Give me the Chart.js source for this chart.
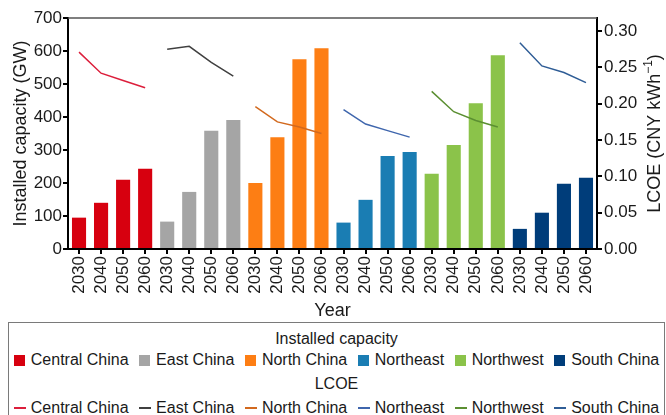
<!DOCTYPE html>
<html>
<head>
<meta charset="utf-8">
<script src="https://cdn.jsdelivr.net/npm/chart.js@4"></script>
<style>
  html, body { margin: 0; padding: 0; background: #fff; overflow: hidden; }
  #wrap { position: relative; width: 666px; height: 415px; font-family: 'Liberation Sans', Arial, sans-serif; color: #1a1a1a; }
  #chartBox { position: absolute; left: 0; top: 0; width: 666px; height: 322px; }
  #legend { position: absolute; left: 8px; top: 322px; width: 657px; height: 110px; border: 1.5px solid #7a7a7a; box-sizing: border-box; padding-top: 7px; }
  .ttl { text-align: center; font-size: 16px; line-height: 18px; }
  .row { display: flex; justify-content: center; gap: 10.5px; font-size: 16px; line-height: 18px; margin-top: 3px; }
  .row2 { margin-top: 6px; }
  .ttl2 { margin-top: 6px; }
  .item { display: flex; align-items: center; white-space: nowrap; }
  .sq { width: 11px; height: 11px; margin-right: 6px; }
  .ln { width: 12px; height: 1.5px; margin-right: 5px; }
</style>
</head>
<body>
<div id="wrap">
  <div id="chartBox"><canvas id="c" width="666" height="322"></canvas></div>
  <div id="legend">
    <div class="ttl">Installed capacity</div>
    <div class="row" id="barLegend"></div>
    <div class="ttl ttl2">LCOE</div>
    <div class="row row2" id="lineLegend"></div>
  </div>
</div>
<script>
// Decades shown for each region
const years = ['2030', '2040', '2050', '2060'];
const regions = ['Central China', 'East China', 'North China', 'Northeast', 'Northwest', 'South China'];

// Installed capacity (GW)
const capCentral   = [95, 140, 210, 243];
const capEast      = [83, 173, 358, 391];
const capNorth     = [200, 339, 575, 608];
const capNortheast = [80, 149, 282, 294];
const capNorthwest = [228, 315, 442, 587];
const capSouth     = [61, 110, 198, 216];

// LCOE (CNY per kWh)
const lcoeCentral   = [0.271, 0.242, 0.232, 0.222];
const lcoeEast      = [0.275, 0.279, 0.257, 0.238];
const lcoeNorth     = [0.196, 0.175, 0.168, 0.159];
const lcoeNortheast = [0.192, 0.172, 0.163, 0.154];
const lcoeNorthwest = [0.217, 0.189, 0.177, 0.168];
const lcoeSouth     = [0.284, 0.252, 0.243, 0.229];

// Axis tick values
const capTicks  = [0, 100, 200, 300, 400, 500, 600, 700];
const lcoeTicks = [0, 0.05, 0.10, 0.15, 0.20, 0.25, 0.30];

const barColors  = ['#d7000f', '#a5a5a5', '#fd7e14', '#1a7db3', '#8bc34a', '#003d7a'];
const lineColors = ['#dc1f3c', '#404040', '#d2691e', '#3f66ad', '#5b8f32', '#2f5d96'];

const capSeries  = [capCentral, capEast, capNorth, capNortheast, capNorthwest, capSouth];
const lcoeSeries = [lcoeCentral, lcoeEast, lcoeNorth, lcoeNortheast, lcoeNorthwest, lcoeSouth];

const labels = regions.flatMap(() => years);
const FONT = "'Liberation Sans', Arial, sans-serif";

// Place a region's four values into its slot along the 24 categories
function place(values, idx) {
  const out = new Array(labels.length).fill(null);
  values.forEach((v, i) => { out[idx * years.length + i] = v; });
  return out;
}

const datasets = [];
lcoeSeries.forEach((vals, i) => {
  datasets.push({
    type: 'line', label: regions[i], data: place(vals, i), yAxisID: 'y1',
    borderColor: lineColors[i], borderWidth: 1.5, pointRadius: 0, spanGaps: false,
    tension: 0, order: 0
  });
});
capSeries.forEach((vals, i) => {
  datasets.push({
    type: 'bar', label: regions[i], data: place(vals, i), yAxisID: 'y',
    backgroundColor: barColors[i], grouped: false, barPercentage: 0.64,
    categoryPercentage: 1, order: 1
  });
});

// Top frame line and the right-hand axis title with superscript
const frameAndTitle = {
  id: 'frameAndTitle',
  afterDraw(chart) {
    const { ctx, chartArea: { left, right, top, bottom } } = chart;
    ctx.save();
    ctx.strokeStyle = '#555';
    ctx.lineWidth = 1.5;
    ctx.beginPath();
    ctx.moveTo(left, top);
    ctx.lineTo(right, top);
    ctx.stroke();

    const main = 'LCOE (CNY kWh', sup = '\u22121', close = ')';
    const mainFont = '18px ' + FONT, supFont = '12px ' + FONT;
    ctx.font = mainFont; const w1 = ctx.measureText(main).width; const w3 = ctx.measureText(close).width;
    ctx.font = supFont; const w2 = ctx.measureText(sup).width;
    const total = w1 + w2 + w3;
    ctx.translate(655, (top + bottom) / 2);
    ctx.rotate(-Math.PI / 2);
    ctx.fillStyle = '#1a1a1a';
    ctx.textBaseline = 'middle';
    ctx.textAlign = 'left';
    let x = -total / 2;
    ctx.font = mainFont; ctx.fillText(main, x, 0); x += w1;
    ctx.font = supFont; ctx.fillText(sup, x, -6); x += w2;
    ctx.font = mainFont; ctx.fillText(close, x, 0);
    ctx.restore();
  }
};

const tickFont = { size: 17, family: FONT };
const axisGrid = { display: true, drawOnChartArea: false, drawTicks: true, tickLength: 5, tickColor: '#000', lineWidth: 2, offset: false };

new Chart(document.getElementById('c'), {
  data: { labels, datasets },
  options: {
    responsive: false,
    animation: false,
    layout: { padding: { top: 18, left: 0, right: 0, bottom: 0 } },
    plugins: { legend: { display: false }, tooltip: { enabled: false } },
    scales: {
      x: {
        type: 'category', offset: true,
        grid: axisGrid,
        border: { color: '#000', width: 2 },
        ticks: { minRotation: 90, maxRotation: 90, autoSkip: false, padding: 2, color: '#1a1a1a', font: tickFont },
        title: { display: true, text: 'Year', color: '#1a1a1a', font: { size: 18, family: FONT }, padding: { top: 0, bottom: 0 } },
        afterFit(s) { s.height = 73; }
      },
      y: {
        position: 'left', min: capTicks[0], max: capTicks[capTicks.length - 1],
        grid: axisGrid,
        border: { color: '#000', width: 2 },
        ticks: { stepSize: capTicks[1] - capTicks[0], padding: 1, color: '#1a1a1a', font: tickFont },
        title: { display: true, text: 'Installed capacity (GW)', color: '#1a1a1a', font: { size: 18, family: FONT }, padding: { top: 10, bottom: 0 } },
        afterFit(s) { s.width = 68; }
      },
      y1: {
        position: 'right', min: lcoeTicks[0], max: 0.318,
        grid: axisGrid,
        border: { color: '#000', width: 2 },
        ticks: { stepSize: lcoeTicks[1] - lcoeTicks[0], includeBounds: false, padding: 2, color: '#1a1a1a', font: tickFont,
                 callback: v => Number(v).toFixed(2) },
        afterFit(s) { s.width = 69; }
      }
    }
  },
  plugins: [frameAndTitle]
});

// Two-section legend below the chart
const barLegend = document.getElementById('barLegend');
const lineLegend = document.getElementById('lineLegend');
regions.forEach((r, i) => {
  barLegend.insertAdjacentHTML('beforeend',
    `<div class="item"><span class="sq" style="background:${barColors[i]}"></span>${r}</div>`);
  lineLegend.insertAdjacentHTML('beforeend',
    `<div class="item"><span class="ln" style="background:${lineColors[i]}"></span>${r}</div>`);
});
</script>
</body>
</html>
